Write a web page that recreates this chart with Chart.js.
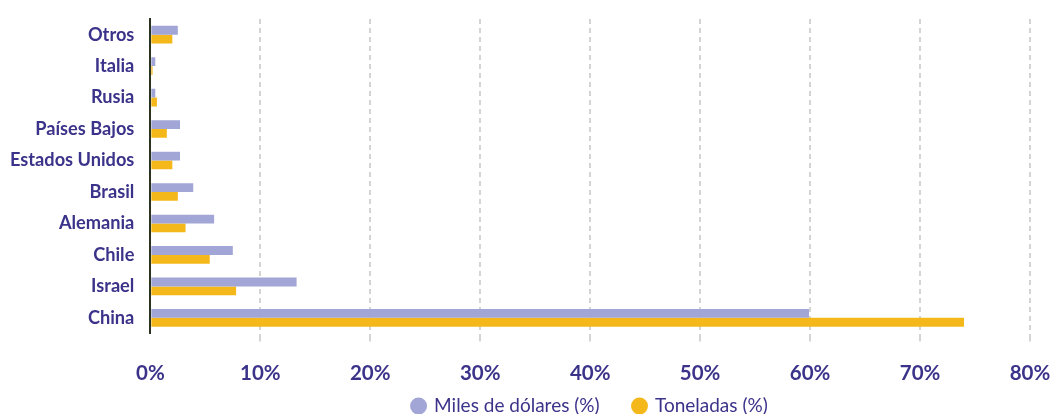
<!DOCTYPE html>
<html>
<head>
<meta charset="utf-8">
<script src="https://cdn.jsdelivr.net/npm/chart.js@4/dist/chart.umd.min.js"></script>
<style>
  html, body { margin: 0; padding: 0; background: #fff; }
  #wrap { width: 1060px; height: 414px; position: relative; }
</style>
</head>
<body>
<div id="wrap"><canvas id="chart"></canvas></div>
<script>
const categories = ['Otros', 'Italia', 'Rusia', 'Países Bajos', 'Estados Unidos', 'Brasil', 'Alemania', 'Chile', 'Israel', 'China'];
const milesDolares = [2.5, 0.45, 0.45, 2.7, 2.7, 3.9, 5.8, 7.5, 13.3, 59.9];
const toneladas = [2.0, 0.2, 0.6, 1.5, 2.0, 2.5, 3.2, 5.4, 7.8, 74.0];
const xTicks = [0, 10, 20, 30, 40, 50, 60, 70, 80];

const textColor = '#3b338a';
const lavender = '#a2a6d6';
const gold = '#f5b81a';

const ctx = document.getElementById('chart').getContext('2d');
new Chart(ctx, {
    type: 'bar',
    data: {
        labels: categories,
        datasets: [
            // trailing spaces widen the gap between the two legend items
            { label: 'Miles de dólares (%)    ', data: milesDolares, backgroundColor: lavender },
            { label: 'Toneladas (%)', data: toneladas, backgroundColor: gold }
        ]
    },
    options: {
        indexAxis: 'y',
        responsive: true,
        maintainAspectRatio: false,
        animation: false,
        layout: { padding: { top: -4.5, right: 0, bottom: -11.6, left: 9 } },
        datasets: { bar: { barPercentage: 1, categoryPercentage: 0.56 } },
        plugins: {
            tooltip: { enabled: false },
            legend: {
                position: 'bottom',
                fullSize: false,
                labels: {
                    usePointStyle: true,
                    pointStyle: 'circle',
                    boxWidth: 12,
                    boxHeight: 12,
                    padding: 14.4,
                    color: textColor,
                    font: { family: 'Lato', size: 19 }
                }
            }
        },
        scales: {
            x: {
                min: 0,
                max: 80,
                afterBuildTicks: (axis) => { axis.ticks = xTicks.map(v => ({ value: v })); },
                afterFit: (axis) => {
                    axis.height -= 22;
                    axis.paddingRight = 30;
                },
                ticks: {
                    callback: v => v + '%',
                    color: textColor,
                    padding: 19,
                    font: { family: 'Lato', size: 20.5, weight: 'bold' }
                },
                grid: {
                    color: c => (c.tick && c.tick.value === 0) ? 'rgba(0,0,0,0)' : '#d4d4d4',
                    lineWidth: 2,
                    tickLength: 8
                },
                border: { display: false, dash: [5, 4] }
            },
            y: {
                afterFit: (axis) => { axis.width -= 7; },
                ticks: {
                    color: textColor,
                    padding: 8,
                    font: { family: 'Lato', size: 18.2, weight: 'bold' }
                },
                grid: { display: false },
                border: { display: true, color: '#2a3320', width: 2 }
            }
        }
    }
});
</script>
</body>
</html>
